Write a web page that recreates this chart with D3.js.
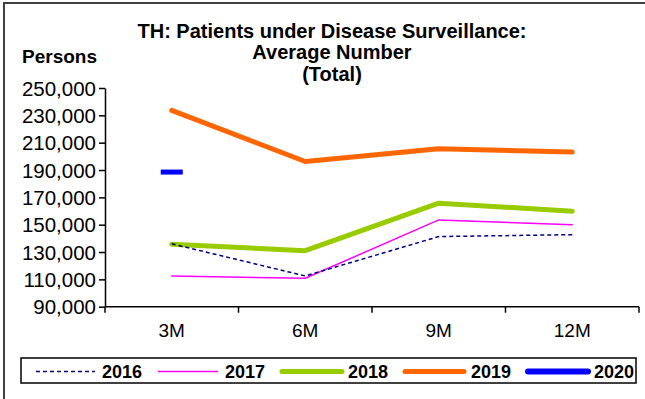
<!DOCTYPE html>
<html>
<head>
<meta charset="utf-8">
<script src="https://cdn.jsdelivr.net/npm/d3@7"></script>
<style>
  html, body { margin: 0; padding: 0; background: #fff; }
  svg { display: block; }
  text { font-family: "Liberation Sans", Arial, sans-serif; fill: #000; }
</style>
</head>
<body>
<svg id="chart" width="645" height="399"></svg>
<script>
// Quarterly average number of patients under disease surveillance
const categories = ["3M", "6M", "9M", "12M"];
const years = ["2016", "2017", "2018", "2019", "2020"];
const values2016 = [136000, 112500, 141300, 142700];
const values2017 = [112500, 110800, 153500, 149900];
const values2018 = [135700, 131000, 165700, 159900];
const values2019 = [233600, 196200, 205500, 203100];
const values2020 = [188500, null, null, null];
const yTicks = [90000, 110000, 130000, 150000, 170000, 190000, 210000, 230000, 250000];
const titleLines = ["TH:  Patients under Disease Surveillance:", "Average Number", "(Total)"];
const yAxisTitle = "Persons";

const seriesValues = [values2016, values2017, values2018, values2019, values2020];
const styles = {
  "2016": { color: "#000080", width: 1.5, dash: "4,3" },
  "2017": { color: "#FF00FF", width: 1.5, dash: null },
  "2018": { color: "#99CC00", width: 5, dash: null },
  "2019": { color: "#FF6600", width: 5, dash: null },
  "2020": { color: "#0000FF", width: 6, dash: null }
};

const svg = d3.select("#chart");

// outer chart frame
svg.append("rect")
  .attr("x", 4).attr("y", 3).attr("width", 660).attr("height", 420)
  .attr("fill", "none").attr("stroke", "#404040").attr("stroke-width", 2);

const plot = { left: 105, right: 639, top: 88, bottom: 306.7 };

const x = d3.scaleBand().domain(categories).range([plot.left, plot.right]).padding(0);
const y = d3.scaleLinear().domain([90000, 250000]).range([plot.bottom, plot.top]);

// y axis
const yAxis = svg.append("g")
  .attr("transform", `translate(${plot.left},0)`)
  .call(d3.axisLeft(y).tickValues(yTicks).tickSize(6).tickSizeOuter(0)
    .tickFormat(d3.format(",")));
yAxis.select(".domain").attr("stroke", "#000").attr("stroke-width", 1.5);
yAxis.selectAll(".tick line").attr("stroke", "#000").attr("stroke-width", 1.5);
yAxis.selectAll(".tick text")
  .attr("x", -9).attr("dy", "0.35em")
  .style("font-size", "20.5px").style("font-family", "Liberation Sans, Arial, sans-serif");

// x axis: ticks at category boundaries, labels centred in each band
const xAxis = svg.append("g").attr("transform", `translate(0,${plot.bottom})`);
xAxis.append("line")
  .attr("x1", plot.left).attr("x2", plot.right)
  .attr("stroke", "#000").attr("stroke-width", 1.5);
const boundaries = categories.map(c => x(c)).concat([x(categories[categories.length - 1]) + x.bandwidth()]);
xAxis.selectAll("line.tick").data(boundaries).join("line")
  .attr("class", "tick")
  .attr("x1", d => d).attr("x2", d => d)
  .attr("y1", 0).attr("y2", 6)
  .attr("stroke", "#000").attr("stroke-width", 1.5);
xAxis.selectAll("text").data(categories).join("text")
  .attr("x", d => x(d) + x.bandwidth() / 2)
  .attr("y", 30)
  .attr("text-anchor", "middle")
  .style("font-size", "19px")
  .text(d => d);

// series lines
const cx = c => x(c) + x.bandwidth() / 2;
const line = d3.line()
  .defined(d => d.v != null)
  .x(d => cx(d.c))
  .y(d => y(d.v));

const drawOrder = ["2019", "2018", "2017", "2016", "2020"];
drawOrder.forEach(yr => {
  const i = years.indexOf(yr);
  const pts = categories.map((c, j) => ({ c, v: seriesValues[i][j] }));
  const st = styles[yr];
  const defined = pts.filter(p => p.v != null);
  if (defined.length > 1) {
    svg.append("path")
      .datum(pts)
      .attr("d", line)
      .attr("fill", "none")
      .attr("stroke", st.color)
      .attr("stroke-width", st.width)
      .attr("stroke-dasharray", st.dash)
      .attr("stroke-linecap", st.dash ? "butt" : "round")
      .attr("stroke-linejoin", "round");
  } else {
    // single value: drawn as a dash marker
    svg.selectAll(null).data(defined).join("rect")
      .attr("x", d => cx(d.c) - 11)
      .attr("y", d => y(d.v) - 2.5)
      .attr("width", 22).attr("height", 5)
      .attr("fill", st.color);
  }
});

// titles
const title = svg.append("text")
  .attr("text-anchor", "middle")
  .style("font-size", "20px").style("font-weight", "bold");
titleLines.forEach((t, i) => {
  title.append("tspan").attr("x", 332).attr("y", 37.5 + i * 21.5).text(t);
});
svg.append("text")
  .attr("x", 22).attr("y", 63)
  .style("font-size", "19px").style("font-weight", "bold")
  .text(yAxisTitle);

// legend
const legend = svg.append("g");
legend.append("rect")
  .attr("x", 21).attr("y", 358).attr("width", 615).attr("height", 25)
  .attr("fill", "#fff").attr("stroke", "#000").attr("stroke-width", 1.5);
const legendPos = [
  { x1: 36, x2: 95, tx: 102 },
  { x1: 158, x2: 218, tx: 225 },
  { x1: 282, x2: 342, tx: 348 },
  { x1: 405, x2: 464, tx: 471 },
  { x1: 528, x2: 588, tx: 594 }
];
years.forEach((yr, i) => {
  const st = styles[yr];
  const p = legendPos[i];
  legend.append("line")
    .attr("x1", p.x1).attr("x2", p.x2).attr("y1", 371.5).attr("y2", 371.5)
    .attr("stroke", st.color)
    .attr("stroke-width", st.dash ? 1.5 : (st.width > 2 ? st.width : 1.5))
    .attr("stroke-dasharray", st.dash)
    .attr("stroke-linecap", st.dash || st.width < 2 ? "butt" : "round");
  legend.append("text")
    .attr("x", p.tx).attr("y", 378)
    .style("font-size", "18px").style("font-weight", "bold")
    .text(yr);
});
</script>
</body>
</html>
